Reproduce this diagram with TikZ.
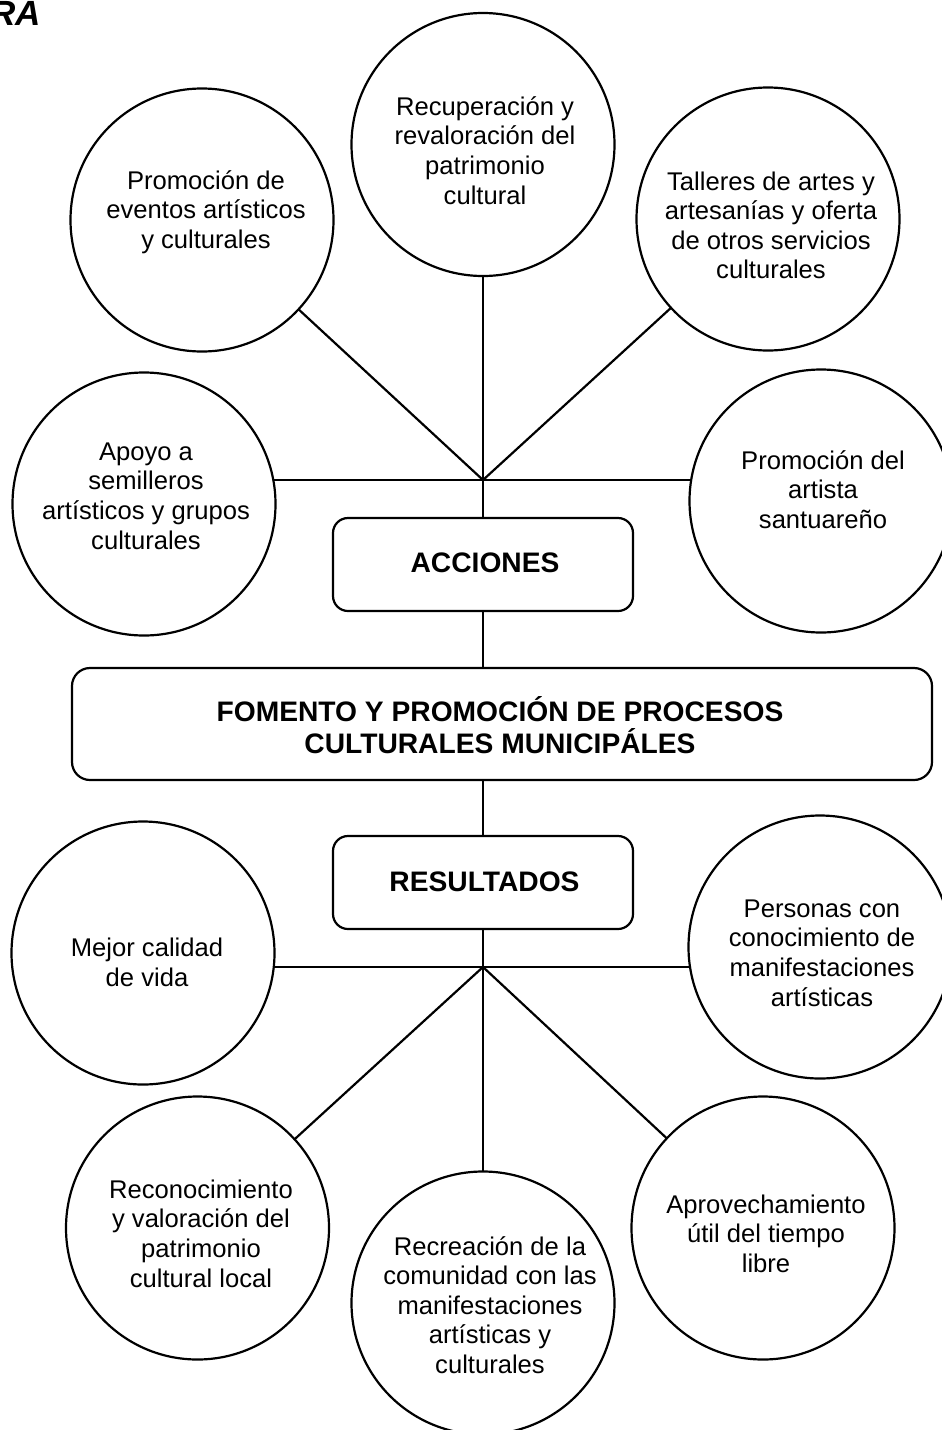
\documentclass[tikz,border=0pt]{standalone}
\usepackage{fontspec}
\setmainfont{Liberation Sans}
\begin{document}
\begin{tikzpicture}[x=1pt,y=-1pt,
  circ/.style={circle,draw,line width=2.2pt,minimum size=263pt,inner sep=0pt,outer sep=0pt},
  txt/.style={align=center,font=\fontsize{25.6}{29.6}\selectfont,inner sep=0pt,outer sep=0pt,anchor=south},
  rbox/.style={draw,line width=2.2pt,inner sep=0pt,outer sep=0pt},
  btxt/.style={align=center,font=\fontsize{28.2}{31.5}\selectfont\bfseries,inner sep=0pt,outer sep=0pt,anchor=south},
  link/.style={line width=2.2pt}]
\clip (0,0) rectangle (942,1430);
% title fragment
\node[font=\fontsize{35}{40}\selectfont\bfseries\itshape,inner sep=0pt,anchor=base east] (ttl) at (41,25) {RA};
% junctions
\coordinate (j1) at (483,480);
\coordinate (j2) at (483,967);
% circles
\node[circ] (rec) at (483,144.5) {};
\node[circ] (prom) at (202,220) {};
\node[circ] (tall) at (768,219) {};
\node[circ] (apoyo) at (144,504) {};
\node[circ] (art) at (821,501) {};
\node[circ] (mejor) at (143,953) {};
\node[circ] (pers) at (820,947) {};
\node[circ] (recon) at (197.5,1228) {};
\node[circ] (recre) at (483,1303) {};
\node[circ] (aprov) at (763,1228) {};
% boxes
\node[rbox,rounded corners=15pt,minimum width=300pt,minimum height=93pt] (acc) at (483,564.5) {};
\node[rbox,rounded corners=18pt,minimum width=860pt,minimum height=112pt] (fom) at (502,724) {};
\node[rbox,rounded corners=15pt,minimum width=300pt,minimum height=93pt] (res) at (483,882.5) {};
% texts
\node[txt] (trec) at (485,212.9) {Recuperación y\\revaloración del\\patrimonio\\cultural\strut};
\node[txt] (tprom) at (206,257.1) {Promoción de\\eventos artísticos\\y culturales\strut};
\node[txt] (ttall) at (771,287.7) {Talleres de artes y\\artesanías y oferta\\de otros servicios\\culturales\strut};
\node[txt] (tapoyo) at (146,557.9) {Apoyo a\\semilleros\\artísticos y grupos\\culturales\strut};
\node[txt] (tart) at (823,537.4) {Promoción del\\artista\\santuareño\strut};
\node[txt] (tmejor) at (147,994.9) {Mejor calidad\\de vida\strut};
\node[txt] (tpers) at (822,1014.9) {Personas con\\conocimiento de\\manifestaciones\\artísticas\strut};
\node[txt] (trecon) at (201,1295.9) {Reconocimiento\\y valoración del\\patrimonio\\cultural local\strut};
\node[txt] (trecre) at (490,1382.3) {Recreación de la\\comunidad con las\\manifestaciones\\artísticas y\\culturales\strut};
\node[txt] (taprov) at (766,1281.1) {Aprovechamiento\\útil del tiempo\\libre\strut};
\node[btxt] (tacc) at (485,582.4) {ACCIONES\strut};
\node[btxt] (tfom) at (500,762.8) {FOMENTO Y PROMOCIÓN DE PROCESOS\\CULTURALES MUNICIPÁLES\strut};
\node[btxt] (tres) at (484.5,900.5) {RESULTADOS\strut};
% connectors (top)
\draw[link] (rec.south) -- (j1);
\draw[link] (j1) -- (prom);
\draw[link] (j1) -- (tall);
\draw[link] (j1) -- (j1 -| apoyo.10.5);
\draw[link] (j1) -- (j1 -| art.170.8);
\draw[link] (j1) -- (acc.north);
\draw[link] (acc.south) -- (acc.south |- fom.north);
\draw[link] (res.north |- fom.south) -- (res.north);
% connectors (bottom)
\draw[link] (res.south) -- (j2);
\draw[link] (j2) -- (j2 -| mejor.-6.1);
\draw[link] (j2) -- (j2 -| pers.188.8);
\draw[link] (j2) -- (recon);
\draw[link] (j2) -- (recre.north);
\draw[link] (j2) -- (aprov);
\end{tikzpicture}
\end{document}
